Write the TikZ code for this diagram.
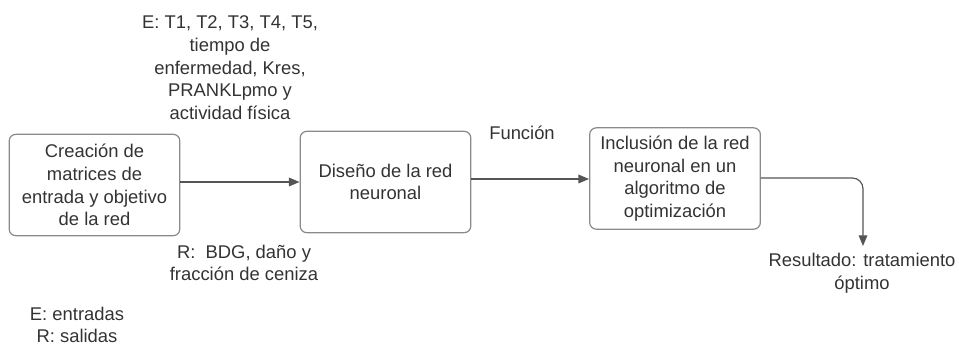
\documentclass[tikz,border=0pt]{standalone}
\usepackage{fontspec}
\setmainfont{Liberation Sans}
\usetikzlibrary{arrows.meta}
\definecolor{txt}{HTML}{333333}
\definecolor{boxline}{HTML}{8A8A8A}
\definecolor{wire}{HTML}{555555}
\tikzset{
  every node/.style={font=\fontsize{13.8}{17}\selectfont, text=txt, align=center, inner sep=0pt},
  procbox/.style={draw=boxline, line width=0.9pt, rounded corners=5pt,
    minimum width=128pt, minimum height=76pt},
  flow/.style={draw=wire, line width=0.9pt, -{Triangle[length=8pt,width=6.5pt]}},
}
\begin{document}
\begin{tikzpicture}[x=0.75pt, y=-0.75pt]
  \useasboundingbox (0,0) rectangle (959,345);
  % process boxes
  \node[procbox] (b1) at (94.5,185) {Creación de\\matrices de\\entrada y objetivo\\de la red};
  \node[procbox] (b2) at (385.5,182) {Diseño de la red\\neuronal};
  \node[procbox] (b3) at (675,178.5) {Inclusión de la red\\neuronal en un\\algoritmo de\\optimización};
  % labels
  \node (inp) at (230,68) {E: T1, T2, T3, T4, T5,\\tiempo de\\enfermedad, Kres,\\PRANKLpmo y\\actividad física};
  \node (out) at (244,263) {R:\ \ BDG, daño y\\fracción de ceniza};
  \node (fun) at (522,133) {Función};
  \node (res) at (862,273) {Resultado: tratamiento\\óptimo};
  \node (leg) at (77,325) {E: entradas\\R: salidas};
  \coordinate (resin) at (863,246);
  % connectors
  \draw[flow] (b1.east |- 0,182) -- (b2.west |- 0,182);
  \draw[flow] (b2.east |- 0,179) -- (b3.west |- 0,179);
  \draw[flow, rounded corners=8pt] (b3.east |- 0,178) -| (resin);
\end{tikzpicture}
\end{document}
